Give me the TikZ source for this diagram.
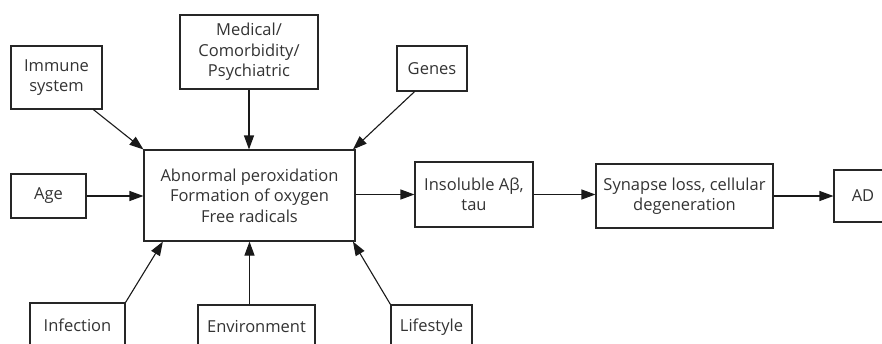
\documentclass[tikz,border=0pt]{standalone}
\usepackage{fontspec}
\setmainfont{Open Sans}
\usepackage{tikz}
\usetikzlibrary{arrows.meta}

\begin{document}
\begin{tikzpicture}[x=1pt, y=-1pt,
  factor/.style={draw=black!85, line width=1.1pt, inner sep=0pt, align=center,
    text=black!80, font=\fontsize{16.5}{20.5}\selectfont},
  link/.style={line width=1.1pt, draw=black!90, -{Triangle[length=14pt,width=10pt]}}]

\clip (0,0) rectangle (882,343);

% risk factors around the centre
\path
(56.5,77.5) node[factor, minimum width=91pt, minimum height=63pt](immune) {Immune\\system}
(249,52) node[factor, minimum width=138pt, minimum height=74pt](medical) {Medical/\\Comorbidity/\\Psychiatric}
(432,68.5) node[factor, minimum width=70pt, minimum height=45pt](genes) {Genes}
(48.5,196) node[factor, minimum width=75pt, minimum height=44pt](age) {Age}
(77.5,325) node[factor, minimum width=95pt, minimum height=44pt](infection) {Infection}
(256.5,327) node[factor, minimum width=117pt, minimum height=44pt](environment) {Environment}
(431.5,327) node[factor, minimum width=81pt, minimum height=44pt](lifestyle) {Lifestyle};

% main chain
\path
(249.5,195.5) node[factor, minimum width=211pt, minimum height=91pt](oxid) {Abnormal peroxidation\\Formation of oxygen\\Free radicals}
(474,194.5) node[factor, minimum width=118pt, minimum height=65pt](insoluble) {Insoluble Aβ,\\tau}
(684.5,196) node[factor, minimum width=177pt, minimum height=64pt](synapse) {Synapse loss, cellular\\degeneration}
(863,196) node[factor, minimum width=58pt, minimum height=52pt](ad) {AD};

%% Arrows into the centre box
\draw[link] (immune.-41) -- (oxid.north west);
\draw[link] (medical.south) -- (medical.south |- oxid.north);
\draw[link] (genes.-127) -- (oxid.24.8);
\draw[link] (age.east) -- (age.east -| oxid.west);
\draw[link] (infection.north east) -- (oxid.208);
\draw[link] (oxid.south |- environment.north) -- (oxid.south);
\draw[link] (lifestyle.north west) -- (oxid.-24.8);

%% Arrows along the chain
\draw[link] (oxid.east |- insoluble.west) -- (insoluble.west);
\draw[link] (insoluble.east) -- (insoluble.east -| synapse.west);
\draw[link] (synapse.east) -- (synapse.east -| ad.west);

\end{tikzpicture}
\end{document}
